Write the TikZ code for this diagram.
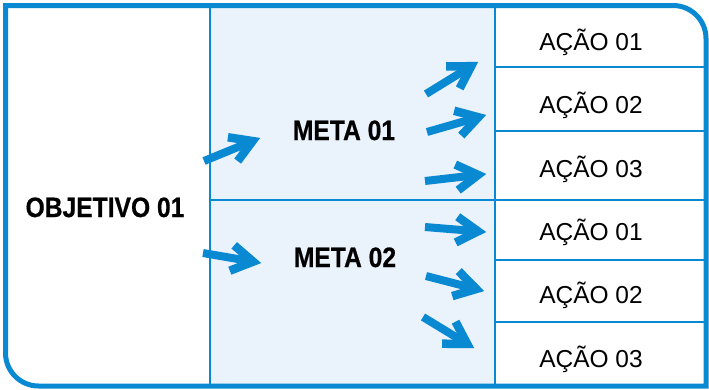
\documentclass[tikz,border=0pt]{standalone}
\usepackage{fontspec}
\setmainfont{Liberation Sans}
\newfontfamily\boldcond[FakeStretch=0.88,FakeBold=0.6]{Liberation Sans Bold}
\usetikzlibrary{calc}
\definecolor{mblue}{HTML}{0A89D3}
\definecolor{mfill}{HTML}{EAF2FC}
\tikzset{
  grid/.style={draw=mblue, line width=2pt},
  outer/.style={draw=mblue, line width=5pt},
  shaft/.style={draw=mblue, line width=8pt},
  chev/.style={draw=mblue, line width=8.5pt, miter limit=10},
  boldlabel/.style={font=\boldcond\fontsize{28}{30}\selectfont, anchor=base, inner sep=0pt},
  actlabel/.style={font=\fontsize{24.5}{27}\selectfont, anchor=base, inner sep=0pt},
}
\begin{document}
\begin{tikzpicture}[x=1pt,y=-1pt]
\useasboundingbox (0,0) rectangle (709,389);
% meta fill
\fill[mfill] (210,5.5) rectangle (495,386);
% grid lines
\draw[grid] (210,5.5) -- (210,386);
\draw[grid] (495,5.5) -- (495,386);
\draw[grid] (210,200) -- (706,200);
\draw[grid] (495,67) -- (706,67);
\draw[grid] (495,131) -- (706,131);
\draw[grid] (495,260) -- (706,260);
\draw[grid] (495,322) -- (706,322);
% outer border
\draw[outer] (5.5,5.5) -- (673,5.5) arc[start angle=-90, end angle=0, radius=33]
  -- (706,386) -- (38.5,386) arc[start angle=90, end angle=180, radius=33] -- cycle;
% labels
\node[boldlabel] (obj) at (105,217) {OBJETIVO 01};
\node[boldlabel] (m1) at (344,140) {META 01};
\node[boldlabel] (m2) at (345,267) {META 02};
\node[actlabel] (a11) at (591,50) {AÇÃO 01};
\node[actlabel] (a12) at (591,113) {AÇÃO 02};
\node[actlabel] (a13) at (591,177) {AÇÃO 03};
\node[actlabel] (a21) at (591,240) {AÇÃO 01};
\node[actlabel] (a22) at (591,303) {AÇÃO 02};
\node[actlabel] (a23) at (591,367) {AÇÃO 03};
% arrow end points
\coordinate (o1s) at (204,161);  \coordinate (o1e) at (260,138);
\coordinate (o2s) at (203,253);  \coordinate (o2e) at (261,263);
\coordinate (p1s) at (426,94);   \coordinate (p1e) at (478,62);
\coordinate (p2s) at (427,132);  \coordinate (p2e) at (486,115);
\coordinate (p3s) at (425,181);  \coordinate (p3e) at (486,174);
\coordinate (q1s) at (425,227);  \coordinate (q1e) at (486,232);
\coordinate (q2s) at (426,276);  \coordinate (q2e) at (484,291);
\coordinate (q3s) at (423,317);  \coordinate (q3e) at (474,348);
\foreach \a in {o1,o2,p1,p2,p3,q1,q2,q3}{
  \coordinate (\a v) at ($(\a e)!8pt!(\a s)$);
  \draw[shaft] (\a s) -- ($(\a v)!2pt!(\a s)$);
  \draw[chev] ($(\a v)!25pt!31:(\a s)$) -- (\a v) -- ($(\a v)!25pt!-31:(\a s)$);
}
\end{tikzpicture}
\end{document}
